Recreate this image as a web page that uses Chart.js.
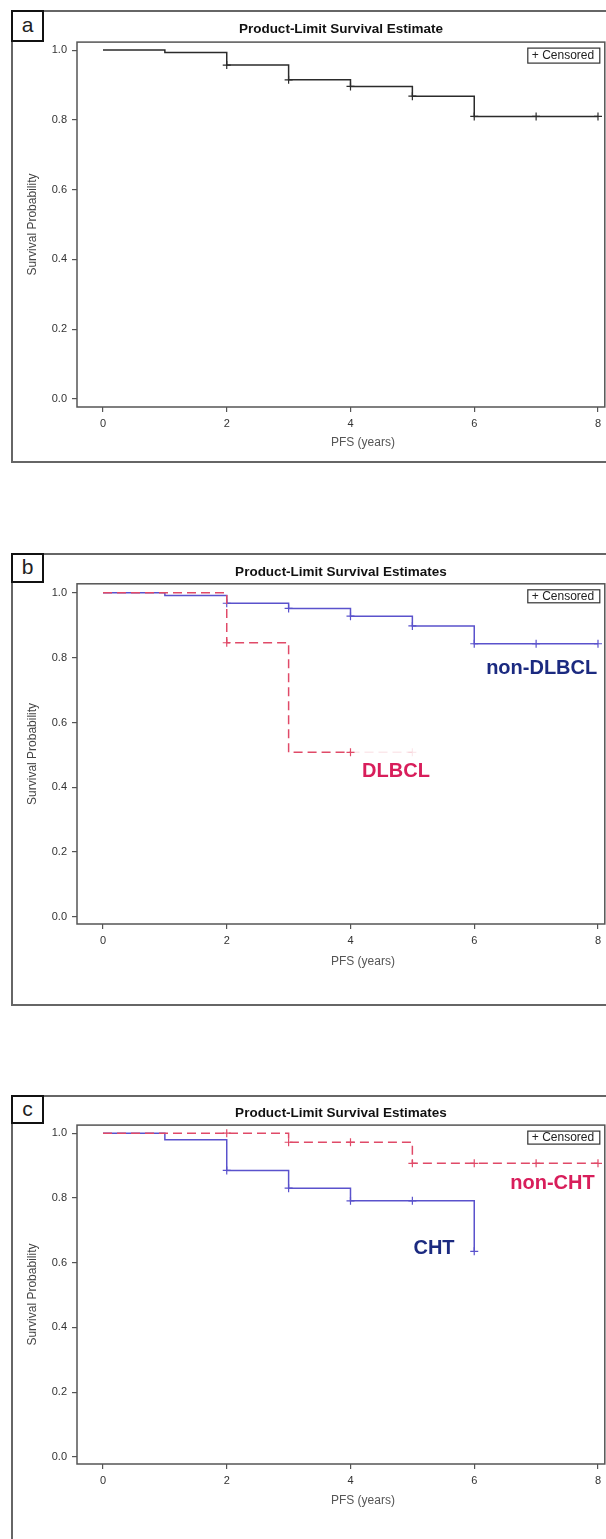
<!DOCTYPE html>
<html><head><meta charset="utf-8">
<script src="https://cdn.jsdelivr.net/npm/chart.js@4.4.1/dist/chart.umd.min.js"></script>
<style>
html,body{margin:0;padding:0;width:606px;height:1539px;overflow:hidden;background:#fff;}
.panel{position:absolute;left:11px;width:640px;border:2px solid #666;box-sizing:border-box;}
.tag{position:absolute;left:11px;width:33px;height:32px;border:2px solid #111;box-sizing:border-box;background:#fff;font:21px 'Liberation Sans',Arial,sans-serif;color:#222;text-align:center;line-height:26px;z-index:3;}
canvas{position:absolute;left:11px;z-index:2;}
</style></head><body>
<div class="panel" style="top:10px;height:453px"></div>
<div class="tag" style="top:10px">a</div>
<canvas id="ca" width="599" height="452" style="top:10px"></canvas>

<div class="panel" style="top:553px;height:453px"></div>
<div class="tag" style="top:553px;height:30px;line-height:24px">b</div>
<canvas id="cb" width="599" height="452" style="top:553px"></canvas>

<div class="panel" style="top:1095px;height:500px"></div>
<div class="tag" style="top:1095px;height:29px;line-height:23px">c</div>
<canvas id="cc" width="599" height="444" style="top:1095px"></canvas>

<script>
// ---- tick labels ----
const xTicks = [0, 2, 4, 6, 8];
const yTicks = [0, 0.2, 0.4, 0.6, 0.8, 1.0];

// ---- panel a ----
const aTimes = [0, 1, 2, 3, 4, 5, 6, 8];
const aSurv = [1.0, 0.993, 0.957, 0.915, 0.896, 0.868, 0.810, 0.810];
const aCensorTimes = [2, 3, 4, 5, 6, 7, 8];
const aCensorSurv = [0.957, 0.915, 0.896, 0.868, 0.810, 0.810, 0.810];

// ---- panel b ----
const bNonTimes = [0, 1, 2, 3, 4, 5, 6, 8];
const bNonSurv = [1.0, 0.992, 0.968, 0.952, 0.928, 0.898, 0.843, 0.843];
const bNonCensorTimes = [2, 3, 4, 5, 6, 7, 8];
const bNonCensorSurv = [0.968, 0.952, 0.928, 0.898, 0.843, 0.843, 0.843];
const bDlTimes = [0, 2, 3, 4, 5];
const bDlSurv = [1.0, 0.846, 0.508, 0.508, 0.508];
const bDlCensorTimes = [2, 4, 5];
const bDlCensorSurv = [0.846, 0.508, 0.508];

// ---- panel c ----
const cChtTimes = [0, 1, 2, 3, 4, 6];
const cChtSurv = [1.0, 0.980, 0.885, 0.830, 0.791, 0.635];
const cChtCensorTimes = [2, 3, 4, 5, 6];
const cChtCensorSurv = [0.885, 0.830, 0.791, 0.791, 0.635];
const cNonTimes = [0, 3, 5, 8];
const cNonSurv = [1.0, 0.972, 0.907, 0.907];
const cNonCensorTimes = [2, 3, 4, 5, 6, 7, 8];
const cNonCensorSurv = [1.0, 0.972, 0.972, 0.907, 0.907, 0.907, 0.907];

const FONT = "'Liberation Sans', Arial, sans-serif";
Chart.defaults.font.family = FONT;

const BLACK = '#2b2b2b', BLUE = '#5a52cc', RED = '#e04a68', RED_FAINT = 'rgba(224,74,104,0.13)';
const NAVY = '#1b2a80', CRIMSON = '#d81e5b';

const pts = (xs, ys) => xs.map((x, i) => ({x: x, y: ys[i]}));

function stepSet(xs, ys, color, dashed, extra) {
  return Object.assign({
    data: pts(xs, ys), borderColor: color, borderWidth: 1.5,
    borderDash: dashed ? [9, 5] : [], stepped: true, showLine: true,
    pointRadius: 0, fill: false
  }, extra || {});
}
function censorSet(xs, ys, color) {
  return {
    data: pts(xs, ys), showLine: false, pointStyle: 'cross', pointRadius: 4,
    pointBorderColor: color, pointBorderWidth: 1.2, pointBackgroundColor: color
  };
}

const decor = {
  id: 'kmDecor',
  beforeDatasetsDraw(chart) {
    const {ctx, chartArea: a} = chart;
    ctx.save();
    ctx.strokeStyle = '#555'; ctx.lineWidth = 1.5;
    ctx.strokeRect(a.left, a.top, a.right - a.left, a.bottom - a.top);
    ctx.restore();
  },
  afterDraw(chart, args, opts) {
    const {ctx, chartArea: a, scales} = chart;
    ctx.save();
    const lw = 72, lh = opts.legendH;
    const lx = a.right - 5 - lw, ly = a.top + 6;
    ctx.fillStyle = '#fff'; ctx.fillRect(lx, ly, lw, lh);
    ctx.strokeStyle = '#333'; ctx.lineWidth = 1.2; ctx.strokeRect(lx, ly, lw, lh);
    ctx.font = "12px " + FONT; ctx.fillStyle = '#222';
    ctx.textBaseline = 'middle'; ctx.textAlign = 'left';
    ctx.fillText('+ Censored', lx + 4, ly + lh / 2 + 0.5);
    ctx.font = "12px " + FONT; ctx.fillStyle = '#555'; ctx.textAlign = 'center';
    ctx.fillText('PFS (years)', (a.left + a.right) / 2 + 22, a.bottom + opts.xTitleDy);
    ctx.font = "bold 20px " + FONT;
    for (const l of (opts.labels || [])) {
      ctx.fillStyle = l.color;
      ctx.fillText(l.text, scales.x.getPixelForValue(l.x), scales.y.getPixelForValue(l.y));
    }
    ctx.restore();
  }
};

function makeChart(id, cfg) {
  const tickGrid = {drawOnChartArea: false, drawTicks: true, tickLength: 5, color: '#555', lineWidth: 1.2};
  return new Chart(document.getElementById(id), {
    type: 'line',
    data: {datasets: cfg.datasets},
    options: {
      responsive: false, animation: false, events: [],
      layout: {padding: {top: 0, left: 0, right: 1, bottom: 0}},
      plugins: {
        legend: {display: false}, tooltip: {enabled: false},
        title: {display: true, text: cfg.title, color: '#111', fullSize: false,
          font: {size: 13.5, weight: 'bold'}, padding: {top: cfg.tTop, bottom: cfg.tBot}},
        kmDecor: {labels: cfg.labels, xTitleDy: cfg.xTitleDy, legendH: cfg.legendH}
      },
      scales: {
        x: {type: 'linear', min: -0.42, max: 8.11,
          afterBuildTicks: s => { s.ticks = xTicks.map(v => ({value: v})); },
          afterFit: s => { s.height = cfg.xH; },
          grid: tickGrid, border: {display: false},
          ticks: {padding: 5, color: '#333', font: {size: 11}, callback: v => String(v)}},
        y: {type: 'linear', min: cfg.yMin, max: cfg.yMax,
          afterBuildTicks: s => { s.ticks = yTicks.map(v => ({value: v})); },
          afterFit: s => { s.width = 66; },
          grid: tickGrid, border: {display: false},
          ticks: {padding: 5, color: '#333', font: {size: 11}, callback: v => Number(v).toFixed(1)},
          title: {display: true, text: 'Survival Probability', color: '#444', font: {size: 12},
            padding: {top: 14, bottom: 0}}}
      }
    },
    plugins: [decor]
  });
}

makeChart('ca', {
  title: 'Product-Limit Survival Estimate', tTop: 10.9, tBot: 5.0, xH: 55,
  yMin: -0.023, yMax: 1.023, xTitleDy: 36, legendH: 15,
  datasets: [
    censorSet(aCensorTimes, aCensorSurv, BLACK),
    stepSet(aTimes, aSurv, BLACK, false)
  ]
});

makeChart('cb', {
  title: 'Product-Limit Survival Estimates', tTop: 10.9, tBot: 3.7, xH: 81,
  yMin: -0.022, yMax: 1.028, xTitleDy: 38, legendH: 13,
  labels: [
    {text: 'non-DLBCL', x: 7.09, y: 0.766, color: NAVY},
    {text: 'DLBCL', x: 4.735, y: 0.449, color: CRIMSON}
  ],
  datasets: [
    Object.assign(censorSet(bDlCensorTimes, bDlCensorSurv, RED),
      {pointBorderColor: [RED, RED, RED_FAINT]}),
    stepSet(bDlTimes, bDlSurv, RED, true,
      {segment: {borderColor: c => c.p0DataIndex >= 3 ? RED_FAINT : RED}}),
    censorSet(bNonCensorTimes, bNonCensorSurv, BLUE),
    stepSet(bNonTimes, bNonSurv, BLUE, false)
  ]
});

makeChart('cc', {
  title: 'Product-Limit Survival Estimates', tTop: 9.9, tBot: 4.0, xH: 75,
  yMin: -0.022, yMax: 1.025, xTitleDy: 37, legendH: 13,
  labels: [
    {text: 'non-CHT', x: 7.265, y: 0.846, color: CRIMSON},
    {text: 'CHT', x: 5.35, y: 0.645, color: NAVY}
  ],
  datasets: [
    censorSet(cNonCensorTimes, cNonCensorSurv, RED),
    stepSet(cNonTimes, cNonSurv, RED, true),
    censorSet(cChtCensorTimes, cChtCensorSurv, BLUE),
    stepSet(cChtTimes, cChtSurv, BLUE, false)
  ]
});
</script>
</body></html>
